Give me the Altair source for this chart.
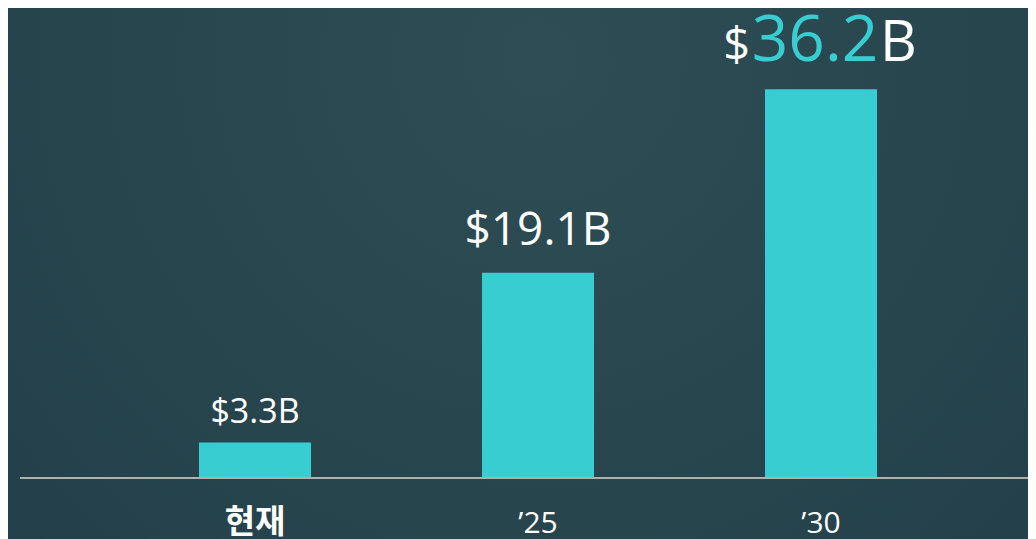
import altair as alt
import pandas as pd

# ---- data ----
categories = ["현재", "’25", "’30"]
values = [3.3, 19.1, 36.2]
baseline_value = [0]

CYAN = "#38CED1"
df = pd.DataFrame({"period": categories, "value": values})
zero_df = pd.DataFrame({"value": baseline_value})

W, H = 1020, 470
PAD_BOTTOM = 80

x_enc = alt.X(
    "period:N",
    sort=None,
    title=None,
    scale=alt.Scale(paddingInner=0.6042, paddingOuter=0.6042, align=0.5585),
    axis=alt.Axis(
        domain=False,
        ticks=False,
        grid=False,
        zindex=1,
        labelAngle=0,
        labelColor="white",
        labelBaseline="alphabetic",
        labelPadding=54,
        labelFont=alt.condition("datum.value == '현재'", alt.value("Noto Sans CJK KR"), alt.value("Open Sans")),
        labelFontWeight=alt.condition("datum.value == '현재'", alt.value("bold"), alt.value("normal")),
        labelFontSize=alt.condition("datum.value == '현재'", alt.value(33), alt.value(30)),
    ),
)
y_scale = alt.Scale(domain=[0, 43.76], nice=False, zero=True)
y_enc = alt.Y("value:Q", scale=y_scale, axis=None)

base = alt.Chart(df).encode(x=x_enc, y=y_enc)

gradient = {
    "gradient": "radial",
    "x1": 0.52, "y1": 0.28, "r1": 0,
    "x2": 0.52, "y2": 0.28, "r2": 0.78,
    "stops": [
        {"offset": 0, "color": "#2F4D55"},
        {"offset": 1, "color": "#223F49"},
    ],
}
bg = alt.Chart(zero_df).mark_rect(fill=gradient).encode(
    x=alt.value(0), x2=alt.value(W), y=alt.value(0), y2=alt.value(H + PAD_BOTTOM)
)

bars = base.mark_bar(color=CYAN)

rule = alt.Chart(zero_df).mark_rule(color="#A9B1B1", strokeWidth=2).encode(
    y=alt.Y("value:Q", scale=y_scale, axis=None), x=alt.value(12), x2=alt.value(W)
)

label_expr = '"$" + format(datum.value, ".1f") + "B"'

lab1 = base.transform_filter(alt.datum.period == categories[0]).transform_calculate(
    label=label_expr
).mark_text(font="Open Sans", fontSize=34, color="white", baseline="alphabetic", dy=-20).encode(
    text="label:N"
)
lab2 = base.transform_filter(alt.datum.period == categories[1]).transform_calculate(
    label=label_expr
).mark_text(font="Open Sans", fontSize=46, color="white", baseline="alphabetic", dy=-28).encode(
    text="label:N"
)
last = base.transform_filter(alt.datum.period == categories[2])
lab3_dollar = last.mark_text(
    font="Open Sans", fontSize=47, color="white", baseline="alphabetic", align="right", dx=-71, dy=-28
).encode(text=alt.value("$"))
lab3_num = last.mark_text(
    font="Open Sans", fontSize=64, color=CYAN, baseline="alphabetic", align="center", dx=-6, dy=-28
).encode(text=alt.Text("value:Q", format=".1f"))
lab3_b = last.mark_text(
    font="Open Sans", fontSize=57, color="white", baseline="alphabetic", align="left", dx=59, dy=-28
).encode(text=alt.value("B"))

chart = alt.layer(bg, bars, rule, lab1, lab2, lab3_dollar, lab3_num, lab3_b).properties(
    width=W,
    height=H,
    padding={"left": 0, "top": 0, "right": 0, "bottom": PAD_BOTTOM},
    autosize=alt.AutoSizeParams(type="none"),
    background="#24424B",
).configure_view(strokeWidth=0)

chart.save("out.html", embed_options={"renderer": "svg", "actions": False})
